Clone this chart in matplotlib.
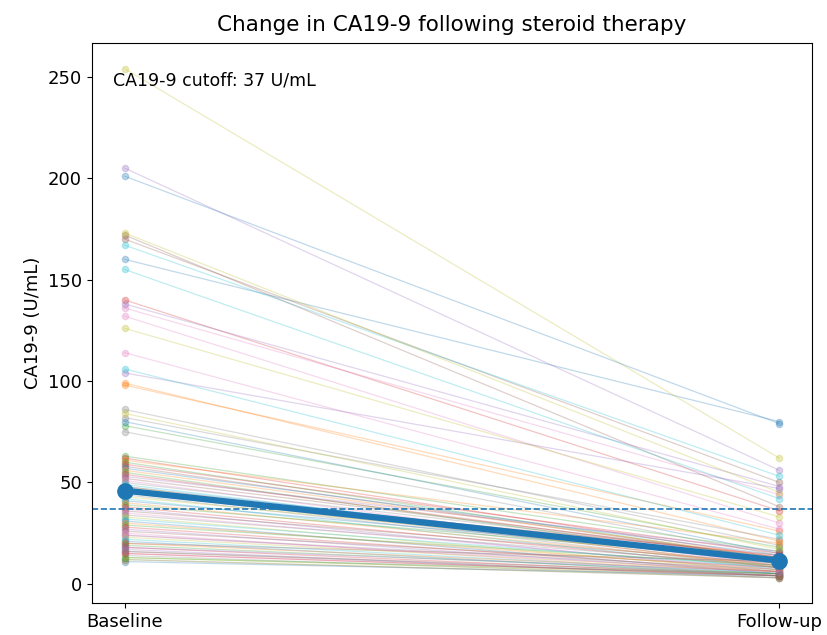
import numpy as np
import matplotlib
matplotlib.use("Agg")
import matplotlib.pyplot as plt

# CA19-9 (U/mL) per patient, same order in both lists
baseline = [160, 99, 78, 140, 205, 170, 136, 86, 254, 167,
            201, 98, 63, 62, 138, 172, 132, 82, 173, 155,
            80, 61, 60, 59, 104, 58, 114, 75, 126, 106,
            57, 56, 55, 54, 53, 52, 51, 50, 84, 49,
            48, 48, 47, 46, 46, 45, 45, 44, 43, 42,
            41, 40, 39, 38, 37, 36, 35, 34, 33, 32,
            31, 30, 29, 28, 27, 26, 25, 24, 23, 22,
            21, 20, 19, 18, 17, 16, 15, 14, 13, 12,
            11, 12, 13, 15, 18, 20, 24, 16]
followup = [80, 21, 18, 36, 56, 50, 44, 19, 62, 53,
            79, 26, 16, 13, 48, 38, 30, 22, 45, 42,
            15, 20, 12, 15, 47, 12, 27, 14, 33, 24,
            14, 13, 10, 12, 16, 13, 9, 13, 17, 10,
            12, 8, 12, 14, 10, 9, 12, 8, 12, 7,
            12, 9, 12, 8, 6, 10, 7, 9, 6, 8,
            5, 7, 9, 6, 5, 8, 4, 7, 6, 5,
            4, 6, 5, 4, 3, 5, 4, 3, 4, 3,
            4, 3, 5, 4, 6, 11, 6, 4]

timepoints = ["Baseline", "Follow-up"]
cutoff = 37

plt.rcParams['font.size'] = 13

fig = plt.figure(figsize=(8.27, 6.35), dpi=100)
ax = fig.add_subplot(1, 1, 1)
fig.subplots_adjust(left=0.111, right=0.982, top=0.932, bottom=0.050)

x = [0, 1]
for b, f in zip(baseline, followup):
	ax.plot(x, [b, f], marker='o', markersize=4.5, linewidth=0.9, alpha=0.28)

med = [np.median(baseline), np.median(followup)]
ax.plot(x, med, color='tab:blue', marker='o', markersize=11, linewidth=4.5)

ax.axhline(cutoff, linestyle='--', color='tab:blue', linewidth=1.2)
ax.text(0.03, 0.95, 'CA19-9 cutoff: %d U/mL' % cutoff, transform=ax.transAxes,
	va='top', ha='left', fontsize=12.5)

ax.set_xticks(x)
ax.set_xticklabels(timepoints)
ax.set_xlim(-0.05, 1.05)
ax.set_ylabel('CA19-9 (U/mL)')
ax.set_title('Change in CA19-9 following steroid therapy', fontsize=15.5, pad=9)

fig.savefig('out.png', dpi=100)
